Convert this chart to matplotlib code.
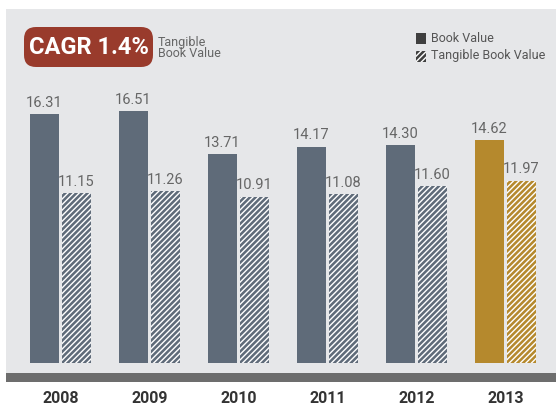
import matplotlib.pyplot as plt
from matplotlib.patches import FancyBboxPatch, Rectangle
from matplotlib.transforms import blended_transform_factory

years = ["2008", "2009", "2010", "2011", "2012", "2013"]
book_value = [16.31, 16.51, 13.71, 14.17, 14.30, 14.62]
tangible_value = [11.15, 11.26, 10.91, 11.08, 11.60, 11.97]
cagr_label = "CAGR 1.4%"

GRAY = "#5f6b79"
GOLD = "#b5892d"
BG = "#e6e7e9"
LABEL = "#666666"

plt.rcParams["font.family"] = ["Roboto", "DejaVu Sans"]
plt.rcParams["hatch.linewidth"] = 1.0

W, H = 556, 407
fig = plt.figure(figsize=(W / 100, H / 100), dpi=100)

# plot panel on light gray background
ax = fig.add_axes([6 / W, (H - 373) / H, 550 / W, 364 / H])
ax.set_facecolor(BG)
ax.set_xlim(-0.612, 5.567)
ax.set_ylim(-0.656, 23.23)
for s in ax.spines.values():
    s.set_visible(False)
ax.set_xticks([])
ax.set_yticks([])

x = list(range(len(years)))
bw = 0.326
off = 0.18
colors = [GRAY] * (len(years) - 1) + [GOLD]

ax.bar([i - off for i in x], book_value, width=bw, color=colors, linewidth=0)
ax.bar([i + off for i in x], tangible_value, width=bw, color=colors,
       hatch="//////", edgecolor="white", linewidth=0)

for i in x:
    ax.text(i - off, book_value[i] + 0.3, f"{book_value[i]:.2f}", ha="center",
            va="bottom", fontsize=10.5, color=LABEL)
    ax.text(i + off, tangible_value[i] + 0.3, f"{tangible_value[i]:.2f}", ha="center",
            va="bottom", fontsize=10.5, color=LABEL)

# year labels under the dark base band
tr = blended_transform_factory(ax.transData, ax.transAxes)
for i, yr in enumerate(years):
    ax.text(i, -0.0714, yr, transform=tr, ha="center", va="center",
            fontsize=11.5, fontweight="bold", color="#333333", clip_on=False)

fig.patches.append(Rectangle((6 / W, (H - 382) / H), 550 / W, 9 / H,
                             transform=fig.transFigure, facecolor="#6d6d6d",
                             edgecolor="none"))

# CAGR badge
fig.patches.append(FancyBboxPatch((24 / W, (H - 67) / H), 129 / W, 40 / H,
                                  boxstyle="round,pad=0,rounding_size=0.0216",
                                  mutation_aspect=W / H,
                                  transform=fig.transFigure, facecolor="#993b2c",
                                  edgecolor="none"))
fig.text(89 / W, (H - 47) / H, cagr_label, ha="center", va="center",
         fontsize=17, fontweight="bold", color="white")
fig.text(158 / W, (H - 48) / H, "Tangible\nBook Value", ha="left", va="center",
         fontsize=9, color=LABEL, linespacing=0.85)

# legend
fig.patches.append(Rectangle((416 / W, (H - 44) / H), 10 / W, 11 / H,
                             transform=fig.transFigure, facecolor="#3f3f3f",
                             edgecolor="none"))
fig.patches.append(Rectangle((416 / W, (H - 62) / H), 10 / W, 11 / H,
                             transform=fig.transFigure, facecolor="#3f3f3f",
                             hatch="//////", edgecolor="white", linewidth=0))
fig.text(431 / W, (H - 38) / H, "Book Value", ha="left", va="center",
         fontsize=9, color="#555555")
fig.text(431 / W, (H - 56) / H, "Tangible Book Value", ha="left", va="center",
         fontsize=9, color="#555555")

fig.savefig("out.png", dpi=100, facecolor="white")
